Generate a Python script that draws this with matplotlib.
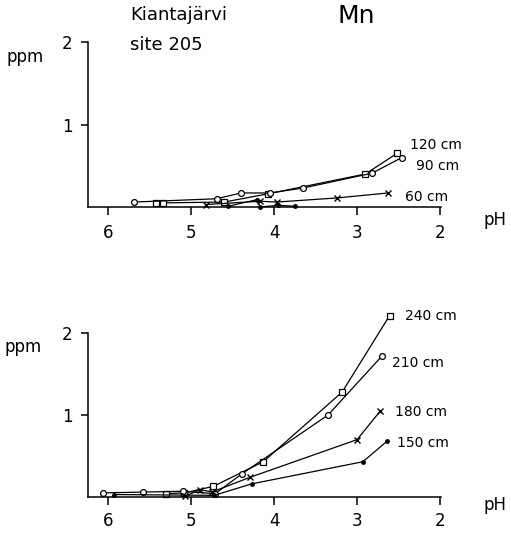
import matplotlib
matplotlib.use("Agg")
import matplotlib.pyplot as plt

W, H = 511, 537

# ---------------- data ----------------
# top panel
top_90_ph = [5.69, 4.69, 4.40, 4.05, 3.65, 2.82, 2.46]
top_90_ppm = [0.06, 0.10, 0.17, 0.17, 0.23, 0.41, 0.60]
top_120_ph = [5.42, 5.34, 4.60, 4.07, 2.90, 2.52]
top_120_ppm = [0.05, 0.05, 0.06, 0.16, 0.40, 0.65]
top_60_ph = [4.82, 4.17, 3.97, 3.24, 2.63]
top_60_ppm = [0.03, 0.07, 0.06, 0.11, 0.17]
top_30_ph = [4.55, 4.20, 4.17, 3.95, 3.75]
top_30_ppm = [0.01, 0.09, 0.00, 0.02, 0.01]

# bottom panel
bot_240_ph = [5.30, 5.08, 4.73, 4.13, 3.18, 2.61]
bot_240_ppm = [0.04, 0.05, 0.13, 0.43, 1.28, 2.21]
bot_210_ph = [6.06, 5.58, 5.10, 4.71, 4.39, 3.35, 2.70]
bot_210_ppm = [0.05, 0.06, 0.07, 0.04, 0.28, 1.00, 1.72]
bot_180_ph = [5.07, 4.89, 4.75, 4.29, 3.00, 2.72]
bot_180_ppm = [0.01, 0.09, 0.06, 0.24, 0.70, 1.05]
bot_150_ph = [5.93, 4.72, 4.27, 2.93, 2.64]
bot_150_ppm = [0.03, 0.02, 0.16, 0.43, 0.68]

x_ticks = [6, 5, 4, 3, 2]
y_ticks = [1, 2]

top_labels = ["120 cm", "90 cm", "60 cm"]
bot_labels = ["240 cm", "210 cm", "180 cm", "150 cm"]

plt.rcParams['font.family'] = ['DejaVu Sans']

fig = plt.figure(figsize=(W / 100, H / 100), dpi=100)
fig.patch.set_facecolor('white')


def px(x, y):
    return x / W, 1 - y / H


def make_ax(top_px, bottom_px, xpad):
    left, right = 88, 441
    ax = fig.add_axes([left / W, 1 - bottom_px / H, (right - left) / W, (bottom_px - top_px) / H])
    ax.set_xlim(6.24, 1.99)
    ax.set_ylim(0, 2)
    for s in ['top', 'right']:
        ax.spines[s].set_visible(False)
    for s in ['left', 'bottom']:
        ax.spines[s].set_linewidth(1.1)
    ax.set_xticks(x_ticks)
    ax.set_xticklabels([str(t) for t in x_ticks])
    ax.set_yticks(y_ticks)
    ax.set_yticklabels([str(t) for t in y_ticks])
    ax.tick_params(axis='x', direction='out', length=6, width=1.1, pad=xpad, labelsize=12)
    ax.tick_params(axis='y', direction='out', length=5, width=1.1, pad=6, labelsize=12)
    ax.set_facecolor('none')
    return ax


lw = 0.9
ms = 4.2
ax1 = make_ax(42, 207, 6)
ax1.plot(top_120_ph, top_120_ppm, color='black', lw=lw, marker='s', ms=ms, mfc='white', mec='black', mew=0.9, clip_on=False)
ax1.plot(top_90_ph, top_90_ppm, color='black', lw=lw, marker='o', ms=ms, mfc='white', mec='black', mew=0.9, clip_on=False)
ax1.plot(top_60_ph, top_60_ppm, color='black', lw=lw, marker='x', ms=ms, mec='black', mew=1.0, clip_on=False)
ax1.plot(top_30_ph, top_30_ppm, color='black', lw=lw, marker='o', ms=2.5, mfc='black', mec='black', clip_on=False)

ax2 = make_ax(333, 497, 4.5)
ax2.plot(bot_240_ph, bot_240_ppm, color='black', lw=lw, marker='s', ms=ms, mfc='white', mec='black', mew=0.9, clip_on=False)
ax2.plot(bot_210_ph, bot_210_ppm, color='black', lw=lw, marker='o', ms=ms, mfc='white', mec='black', mew=0.9, clip_on=False)
ax2.plot(bot_180_ph, bot_180_ppm, color='black', lw=lw, marker='x', ms=ms, mec='black', mew=1.0, clip_on=False)
ax2.plot(bot_150_ph, bot_150_ppm, color='black', lw=lw, marker='o', ms=2.5, mfc='black', mec='black', clip_on=False)

# series labels
lab_fs = 10
for txt, (x, y) in zip(top_labels, [(410, 145), (416, 166), (405, 197)]):
    fig.text(*px(x, y), txt, fontsize=lab_fs, ha='left', va='center')
for txt, (x, y) in zip(bot_labels, [(405, 316), (392, 363), (395, 412), (397, 443)]):
    fig.text(*px(x, y), txt, fontsize=lab_fs, ha='left', va='center')

# axis labels
fig.text(*px(6, 57), "ppm", fontsize=12, ha='left', va='center')
fig.text(*px(4, 347), "ppm", fontsize=12, ha='left', va='center')
fig.text(*px(483, 220), "pH", fontsize=12, ha='left', va='center')
fig.text(*px(483, 505), "pH", fontsize=12, ha='left', va='center')

# titles
fig.text(*px(130, 15), "Kiantajärvi", fontsize=13, ha='left', va='center')
fig.text(*px(130, 45), "site 205", fontsize=13, ha='left', va='center')
fig.text(*px(337, 16), "Mn", fontsize=18, ha='left', va='center')

fig.savefig("out.png", dpi=100)
